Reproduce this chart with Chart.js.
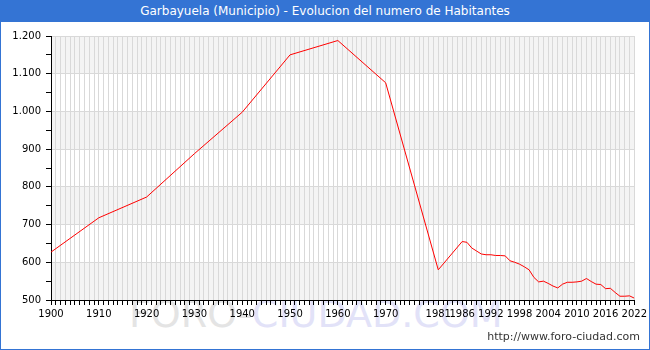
<!DOCTYPE html>
<html>
<head>
<meta charset="utf-8">
<script src="https://cdn.jsdelivr.net/npm/chart.js@4/dist/chart.umd.min.js"></script>
<style>
  html, body { margin: 0; padding: 0; background: #fff; }
  #wrap { position: relative; width: 650px; height: 350px; overflow: hidden; background: #fff; }
  #title { position: absolute; left: 0; top: 0; width: 650px; height: 22px; background: #3474d4; color: #fff;
           font-family: "DejaVu Sans", Verdana, sans-serif; font-size: 12px; line-height: 22px; text-align: center; z-index: 3; }
  #wm { position: absolute; left: 129px; top: 294px; font-family: "DejaVu Sans", sans-serif; font-size: 38px; line-height: 40px;
        white-space: nowrap; z-index: 0; }
  #wm .a { color: #e4e4e4; }
  #wm .b { color: #e2e2f8; }
  #c { position: absolute; left: 0; top: 0; z-index: 1; }
  #url { position: absolute; right: 10px; top: 330px; font-family: "DejaVu Sans", Verdana, sans-serif; font-size: 11px; color: #333; z-index: 2; }
  #frame { position: absolute; left: 0; top: 0; width: 650px; height: 350px; box-sizing: border-box; border: 1px solid #3474d4; z-index: 4; pointer-events: none; }
</style>
</head>
<body>
<div id="wrap">
  <div id="title">Garbayuela (Municipio) - Evolucion del numero de Habitantes</div>
  <div id="wm"><span class="a">FORO-</span><span class="b">CIUDAD.COM</span></div>
  <canvas id="c" width="650" height="350"></canvas>
  <div id="url">http://www.foro-ciudad.com</div>
  <div id="frame"></div>
</div>
<script>
const years = [1900, 1910, 1920, 1930, 1940, 1950, 1960, 1970, 1981, 1986, 1987, 1988, 1989, 1990, 1991, 1992, 1993, 1994, 1995, 1996, 1997, 1998, 1999, 2000, 2001, 2002, 2003, 2004, 2005, 2006, 2007, 2008, 2009, 2010, 2011, 2012, 2013, 2014, 2015, 2016, 2017, 2018, 2019, 2020, 2021, 2022];
const population = [627, 718, 773, 888, 998, 1150, 1188, 1076, 580, 655, 653, 638, 630, 622, 620, 620, 618, 618, 617, 604, 600, 595, 588, 580, 560, 548, 550, 544, 537, 532, 542, 547, 547, 548, 550, 557, 549, 542, 541, 530, 531, 520, 510, 510, 511, 505];
const xLabelYears = [1900, 1910, 1920, 1930, 1940, 1950, 1960, 1970, 1981, 1986, 1992, 1998, 2004, 2010, 2016, 2022];
const yMin = 500, yMax = 1200, yStep = 50, yLabelStep = 100;

const fmt = v => v >= 1000 ? Math.floor(v / 1000) + '.' + String(v % 1000).padStart(3, '0') : String(v);

const bands = {
  id: 'bands',
  beforeDraw(chart) {
    const { ctx, chartArea: a, scales: { y } } = chart;
    ctx.save();
    ctx.fillStyle = '#f4f4f4';
    for (let v = yMin; v < yMax; v += 2 * yLabelStep) {
      const t = y.getPixelForValue(v + yLabelStep), b = y.getPixelForValue(v);
      ctx.fillRect(a.left, t, a.right - a.left, b - t);
    }
    ctx.restore();
  }
};

const allYears = [];
for (let yv = years[0]; yv <= years[years.length - 1]; yv++) allYears.push(yv);

new Chart(document.getElementById('c'), {
  type: 'line',
  data: {
    datasets: [{
      data: years.map((x, i) => ({ x, y: population[i] })),
      borderColor: '#ff0000',
      borderWidth: 1,
      pointRadius: 0,
      tension: 0,
      fill: false
    }]
  },
  options: {
    responsive: false,
    animation: false,
    devicePixelRatio: 1,
    layout: { padding: { left: 0, top: 36, right: 14, bottom: 0 } },
    plugins: { legend: { display: false }, tooltip: { enabled: false } },
    scales: {
      x: {
        type: 'linear',
        min: 1900, max: 2022,
        afterBuildTicks: s => { s.ticks = allYears.map(v => ({ value: v })); },
        afterFit: s => { s.height = 50; },
        ticks: {
          autoSkip: false, maxRotation: 0, minRotation: 0, padding: 3,
          color: '#000', font: { family: 'DejaVu Sans', size: 10 },
          callback: v => xLabelYears.includes(v) ? String(v) : ''
        },
        grid: { color: '#d9d9d9', lineWidth: 1, tickLength: 5, tickColor: '#000' },
        border: { color: '#000', width: 1 }
      },
      y: {
        min: yMin, max: yMax,
        afterBuildTicks: s => { const t = []; for (let v = yMin; v <= yMax; v += yStep) t.push({ value: v }); s.ticks = t; },
        afterFit: s => { s.width = 51; },
        ticks: {
          padding: 5, color: '#000', font: { family: 'DejaVu Sans', size: 10 },
          callback: v => v % yLabelStep === 0 ? fmt(v) : ''
        },
        grid: {
          color: c => (c.tick && c.tick.value % yLabelStep === 0) ? '#d9d9d9' : 'rgba(0,0,0,0)',
          lineWidth: 1, tickLength: 5, tickColor: '#000'
        },
        border: { color: '#000', width: 1 }
      }
    }
  },
  plugins: [bands]
});
</script>
</body>
</html>
